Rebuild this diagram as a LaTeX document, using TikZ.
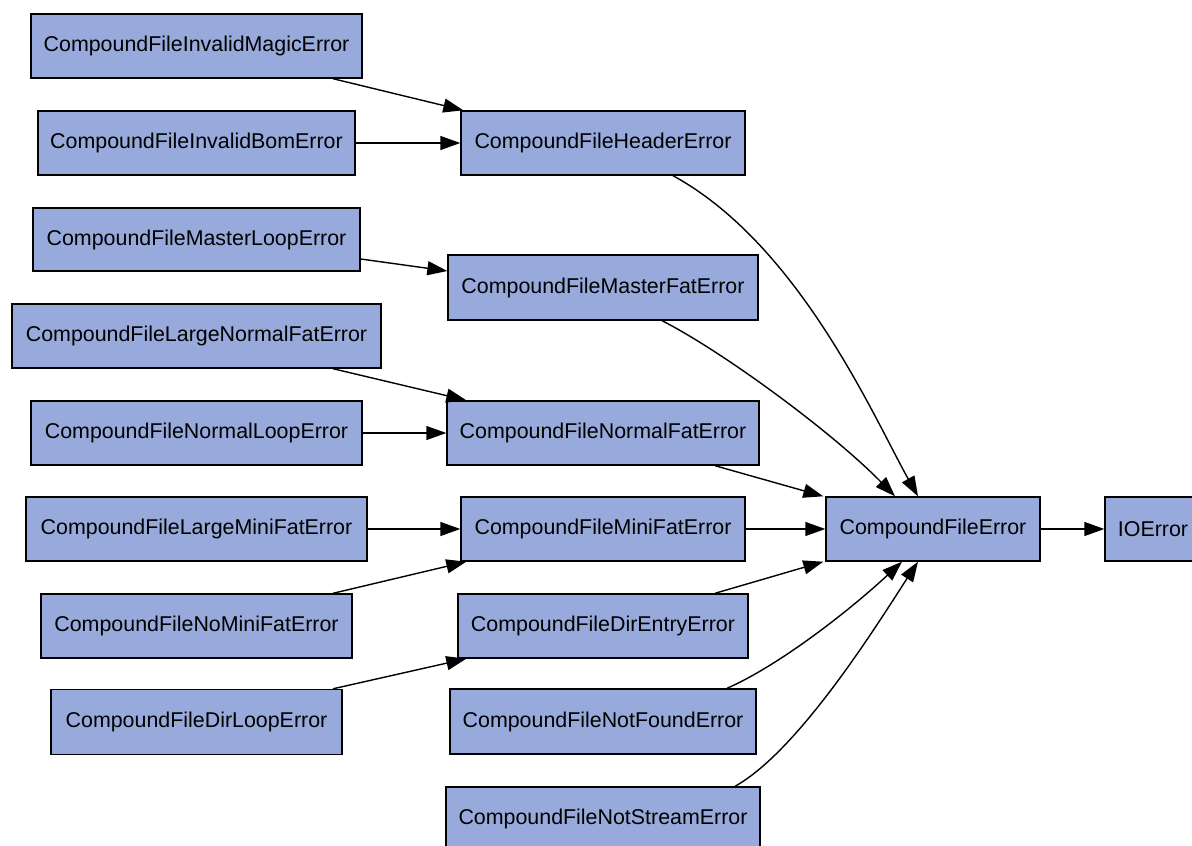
\documentclass[tikz,border=0pt]{standalone}
\usepackage{fontspec}
\setmainfont{Liberation Sans}
\usetikzlibrary{calc,arrows.meta}
\definecolor{boxfill}{RGB}{152,170,219}
\begin{document}
\begin{tikzpicture}[x=1pt,y=-1pt,
  cls/.style={draw=black,fill=boxfill,line width=1.4pt,rectangle,inner sep=0pt,
    minimum height=64pt,font=\fontsize{21.4}{24}\selectfont},
  inh/.style={draw=black,line width=1.4pt,-{Triangle[length=20pt,width=14pt]}}]
\useasboundingbox (0,0) rectangle (1192,846);
% left column
\node[cls,minimum width=331pt] (magic) at (196.5,46) {CompoundFileInvalidMagicError};
\node[cls,minimum width=317pt] (bom) at (196.5,143) {CompoundFileInvalidBomError};
\node[cls,minimum width=327pt,minimum height=63pt] (mloop) at (196.5,239.5) {CompoundFileMasterLoopError};
\node[cls,minimum width=369pt] (lnfat) at (196.5,336) {CompoundFileLargeNormalFatError};
\node[cls,minimum width=331pt] (nloop) at (196.5,433) {CompoundFileNormalLoopError};
\node[cls,minimum width=341pt] (lmfat) at (196.5,529) {CompoundFileLargeMiniFatError};
\node[cls,minimum width=311pt] (nomf) at (196.5,626) {CompoundFileNoMiniFatError};
\node[cls,minimum width=291pt,minimum height=65pt] (dloop) at (196.5,722) {CompoundFileDirLoopError};
% middle column
\node[cls,minimum width=284pt] (header) at (603,143) {CompoundFileHeaderError};
\node[cls,minimum width=310pt,minimum height=65pt] (mfat) at (603,287.5) {CompoundFileMasterFatError};
\node[cls,minimum width=312pt] (nfat) at (603,433) {CompoundFileNormalFatError};
\node[cls,minimum width=284pt] (minifat) at (603,529) {CompoundFileMiniFatError};
\node[cls,minimum width=290pt] (dentry) at (603,626) {CompoundFileDirEntryError};
\node[cls,minimum width=306pt,minimum height=65pt] (notfound) at (603,721.5) {CompoundFileNotFoundError};
\node[cls,minimum width=314pt] (notstream) at (603,819) {CompoundFileNotStreamError};
% right
\node[cls,minimum width=214pt] (cfe) at (933,529) {CompoundFileError};
\node[cls,minimum width=96pt] (io) at (1153,529) {IOError};
% edges left -> middle
\draw[inh] ($(magic.south)+(136.5,0)$) -- ($(header.north west)+(3,0)$);
\draw[inh] (bom.east) -- (header.west);
\draw[inh] ($(mloop.east)+(0,19.5)$) -- ($(mfat.west)+(0,-16.5)$);
\draw[inh] ($(lnfat.south)+(136.5,0)$) -- ($(nfat.north west)+(20,0)$);
\draw[inh] (nloop.east) -- (nfat.west);
\draw[inh] (lmfat.east) -- (minifat.west);
\draw[inh] ($(nomf.north)+(136.5,0)$) -- ($(minifat.south west)+(6,0)$);
\draw[inh] ($(dloop.north)+(136.5,0)$) -- ($(dentry.south west)+(9,0)$);
% edges middle -> CompoundFileError
\draw[inh] ($(header.south)+(70,0)$) .. controls (800,245) and (875,420) .. ($(cfe.north)+(-15,0)$);
\draw[inh] ($(mfat.south)+(59,0)$) .. controls (720,350) and (830,430) .. ($(cfe.north)+(-38,0)$);
\draw[inh] ($(nfat.south)+(112,0)$) -- ($(cfe.north west)+(-2,0)$);
\draw[inh] (minifat.east) -- (cfe.west);
\draw[inh] ($(dentry.north)+(112,0)$) -- ($(cfe.south west)+(-2,0)$);
\draw[inh] ($(notfound.north)+(124,0)$) .. controls (780,665) and (850,610) .. ($(cfe.south)+(-31,0)$);
\draw[inh] ($(notstream.north)+(132,0)$) .. controls (800,750) and (880,620) .. ($(cfe.south)+(-15,0)$);
% CompoundFileError -> IOError
\draw[inh] (cfe.east) -- (io.west);
\end{tikzpicture}
\end{document}
